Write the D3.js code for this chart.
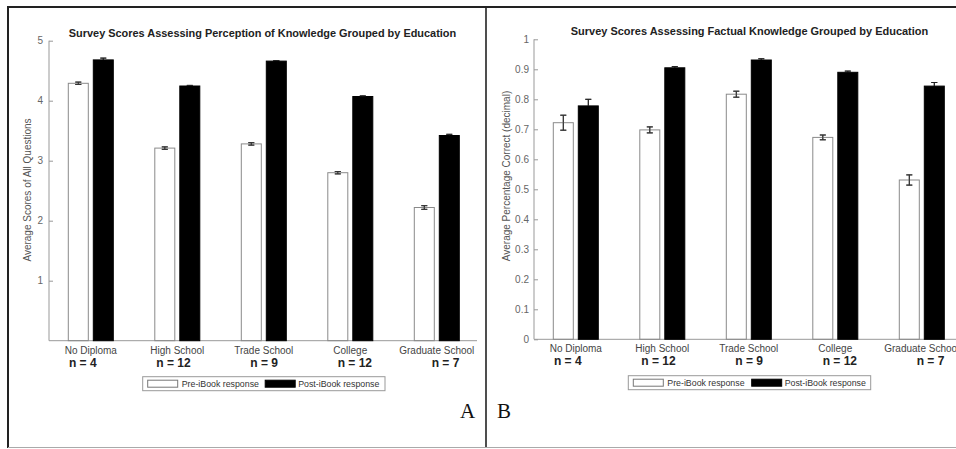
<!DOCTYPE html>
<html>
<head>
<meta charset="utf-8">
<script src="https://cdn.jsdelivr.net/npm/d3@7"></script>
<style>
  html, body { margin: 0; padding: 0; background: #fff; }
  svg { display: block; font-family: "Liberation Sans", Arial, sans-serif; }
</style>
</head>
<body>
<svg id="chart" width="956" height="449"></svg>
<script>
// ---------- data ----------
const categories = ["No Diploma", "High School", "Trade School", "College", "Graduate School"];
const nLabels = ["n = 4", "n = 12", "n = 9", "n = 12", "n = 7"];
const seriesNames = ["Pre-iBook response", "Post-iBook response"];

const perceptionPre     = [4.29, 3.21, 3.28, 2.80, 2.22];
const perceptionPreErr  = [0.02, 0.02, 0.02, 0.02, 0.03];
const perceptionPost    = [4.68, 4.245, 4.66, 4.07, 3.42];
const perceptionPostErr = [0.03, 0.01, 0.01, 0.01, 0.02];
const perceptionTicks   = [1, 2, 3, 4, 5];

const factualPre     = [0.722, 0.698, 0.817, 0.673, 0.531];
const factualPreErr  = [0.025, 0.010, 0.010, 0.008, 0.017];
const factualPost    = [0.778, 0.905, 0.931, 0.890, 0.844];
const factualPostErr = [0.022, 0.004, 0.004, 0.004, 0.012];
const factualTicks   = [0, 0.1, 0.2, 0.3, 0.4, 0.5, 0.6, 0.7, 0.8, 0.9, 1];

const titleA = "Survey Scores Assessing Perception of Knowledge Grouped by Education";
const titleB = "Survey Scores Assessing Factual Knowledge Grouped by Education";
const yLabelA = "Average Scores of All Questions";
const yLabelB = "Average Percentage Correct (decimal)";

// ---------- drawing ----------
const svg = d3.select("#chart");

// frame
const frame = svg.append("g");
frame.append("line").attr("x1", 8).attr("x2", 956).attr("y1", 7).attr("y2", 7)
  .attr("stroke", "#222").attr("stroke-width", 2);
frame.append("line").attr("x1", 8).attr("x2", 8).attr("y1", 6).attr("y2", 448)
  .attr("stroke", "#222").attr("stroke-width", 2);
frame.append("line").attr("x1", 486).attr("x2", 486).attr("y1", 6).attr("y2", 448)
  .attr("stroke", "#222").attr("stroke-width", 1.6);
frame.append("line").attr("x1", 8).attr("x2", 956).attr("y1", 447.5).attr("y2", 447.5)
  .attr("stroke", "#aaa").attr("stroke-width", 1);

function fitFont(textSel, targetWidth, base) {
  textSel.attr("font-size", base);
  const w = textSel.node().getComputedTextLength();
  textSel.attr("font-size", base * targetWidth / w);
}

function panel(cfg) {
  const g = svg.append("g");
  const y = d3.scaleLinear().domain(cfg.domain).range([cfg.y0, cfg.y1]);
  const x = d3.scalePoint().domain(categories).range([cfg.axisX + 41.8, cfg.axisX + 387.8]);
  const xs = d3.scaleBand().domain(seriesNames).range([-22.5, 22.5]).paddingInner(0.2);
  const xn = d3.scalePoint().domain(nLabels.map((d, i) => i)).range([cfg.axisX + 33.8, cfg.axisX + 396.5]);

  // axis lines
  g.append("line").attr("x1", cfg.axisX).attr("x2", cfg.axisX)
    .attr("y1", y(cfg.domain[0])).attr("y2", y(cfg.domain[1]))
    .attr("stroke", "#999").attr("stroke-width", 1);
  g.append("line").attr("x1", cfg.axisX).attr("x2", cfg.xEnd)
    .attr("y1", y(cfg.domain[0])).attr("y2", y(cfg.domain[0]))
    .attr("stroke", "#999").attr("stroke-width", 1);

  // y ticks
  const yAxis = d3.axisLeft(y).tickValues(cfg.ticks).tickSize(-4).tickPadding(cfg.tickPad)
    .tickFormat(d3.format("~g"));
  const ga = g.append("g").attr("transform", `translate(${cfg.axisX},0)`).call(yAxis);
  ga.select(".domain").remove();
  ga.selectAll(".tick line").attr("stroke", "#999");
  ga.selectAll(".tick text").attr("fill", "#666").attr("font-size", 10)
    .attr("font-family", "Liberation Sans, Arial, sans-serif");

  const rows = categories.map((c, i) => ({
    c, i,
    vals: [
      { s: seriesNames[0], v: cfg.pre[i], e: cfg.preErr[i] },
      { s: seriesNames[1], v: cfg.post[i], e: cfg.postErr[i] }
    ]
  }));

  const grp = g.selectAll(".grp").data(rows).join("g")
    .attr("transform", d => `translate(${x(d.c)},0)`);

  // error bars (drawn before bars so stem inside bar is hidden)
  grp.selectAll(".eb").data(d => d.vals).join("path")
    .attr("d", d => {
      const cx = xs(d.s) + xs.bandwidth() / 2;
      const t = y(d.v + d.e), b = y(d.v - d.e);
      return `M${cx - 3},${t}H${cx + 3}M${cx},${t}V${b}M${cx - 3},${b}H${cx + 3}`;
    })
    .attr("fill", "none").attr("stroke", "#333").attr("stroke-width", 1);

  grp.selectAll(".bar").data(d => d.vals).join("rect")
    .attr("x", d => xs(d.s))
    .attr("width", xs.bandwidth())
    .attr("y", d => y(d.v))
    .attr("height", d => y(cfg.domain[0]) - y(d.v))
    .attr("fill", d => d.s === seriesNames[0] ? "#fff" : "#000")
    .attr("fill-opacity", d => d.s === seriesNames[0] ? 0 : 1)
    .attr("stroke", d => d.s === seriesNames[0] ? "#8a8a8a" : "#000")
    .attr("stroke-width", 1);

  // white-bar error bars redrawn on top (visible part inside white bar)
  grp.selectAll(".eb2").data(d => d.vals.filter(v => v.s === seriesNames[0])).join("path")
    .attr("d", d => {
      const cx = xs(d.s) + xs.bandwidth() / 2;
      const t = y(d.v + d.e), b = y(d.v - d.e);
      return `M${cx - 3},${t}H${cx + 3}M${cx},${t}V${b}M${cx - 3},${b}H${cx + 3}`;
    })
    .attr("fill", "none").attr("stroke", "#333").attr("stroke-width", 1);
  grp.selectAll(".eb3").data(d => d.vals.filter(v => v.s === seriesNames[1])).join("path")
    .attr("d", d => {
      const cx = xs(d.s) + xs.bandwidth() / 2;
      const t = y(d.v + d.e);
      return `M${cx - 3},${t}H${cx + 3}M${cx},${t}V${y(d.v)}`;
    })
    .attr("fill", "none").attr("stroke", "#222").attr("stroke-width", 1);

  // category labels
  g.selectAll(".cat").data(categories).join("text")
    .attr("x", d => x(d)).attr("y", cfg.catY)
    .attr("text-anchor", "middle").attr("font-size", 10).attr("fill", "#444")
    .text(d => d);
  g.selectAll(".nl").data(nLabels).join("text")
    .attr("x", (d, i) => xn(i)).attr("y", cfg.nY)
    .attr("text-anchor", "middle").attr("font-size", 12).attr("font-weight", "bold")
    .attr("fill", "#222")
    .text(d => d);

  // title
  const t = g.append("text").attr("x", cfg.titleX).attr("y", cfg.titleY)
    .attr("text-anchor", "middle").attr("font-weight", "bold").attr("fill", "#222")
    .text(cfg.title);
  fitFont(t, cfg.titleW, 10);

  // y label
  g.append("text")
    .attr("transform", `translate(${cfg.yLabX},${cfg.yLabY}) rotate(-90)`)
    .attr("text-anchor", "middle").attr("font-size", 10).attr("fill", "#555")
    .text(cfg.yLabel);

  // legend
  const L = cfg.legend;
  const lg = g.append("g");
  lg.append("rect").attr("x", L.x).attr("y", L.y).attr("width", L.w).attr("height", 14)
    .attr("fill", "#fff").attr("stroke", "#999").attr("stroke-width", 1);
  const items = [
    { s: seriesNames[0], sx: L.x + 5, tx: L.x + 39 },
    { s: seriesNames[1], sx: L.x + L.s2, tx: L.x + L.s2 + 33 }
  ];
  lg.selectAll(".sw").data(items).join("rect")
    .attr("x", d => d.sx).attr("y", L.y + 3.5).attr("width", 30).attr("height", 7)
    .attr("fill", d => d.s === seriesNames[0] ? "#fff" : "#000")
    .attr("stroke", d => d.s === seriesNames[0] ? "#777" : "#000").attr("stroke-width", 1);
  lg.selectAll(".lt").data(items).join("text")
    .attr("x", d => d.tx).attr("y", L.y + 10.3)
    .attr("font-size", 8.8).attr("fill", "#333")
    .text(d => d.s);

  // panel letter
  g.append("text").attr("x", cfg.letterX).attr("y", 418)
    .attr("font-family", "Liberation Serif, 'Times New Roman', serif")
    .attr("font-size", 21).attr("fill", "#111")
    .text(cfg.letter);
}

panel({
  domain: [0, 5], y0: 340.7, y1: 40.7, axisX: 49, xEnd: 477,
  ticks: perceptionTicks, tickPad: 6,
  pre: perceptionPre, preErr: perceptionPreErr, post: perceptionPost, postErr: perceptionPostErr,
  catY: 353.5, nY: 366.5,
  title: titleA, titleX: 262.5, titleY: 37, titleW: 388,
  yLabel: yLabelA, yLabX: 31, yLabY: 190,
  legend: { x: 142.7, y: 376.7, w: 242.3, s2: 122.5 },
  letter: "A", letterX: 460
});

panel({
  domain: [0, 1], y0: 339.3, y1: 39.3, axisX: 534, xEnd: 956,
  ticks: factualTicks, tickPad: 5,
  pre: factualPre, preErr: factualPreErr, post: factualPost, postErr: factualPostErr,
  catY: 352, nY: 365,
  title: titleB, titleX: 749.5, titleY: 35.3, titleW: 357.6,
  yLabel: yLabelB, yLabX: 510, yLabY: 176,
  legend: { x: 628.3, y: 375.7, w: 242.4, s2: 123.4 },
  letter: "B", letterX: 497
});
</script>
</body>
</html>
